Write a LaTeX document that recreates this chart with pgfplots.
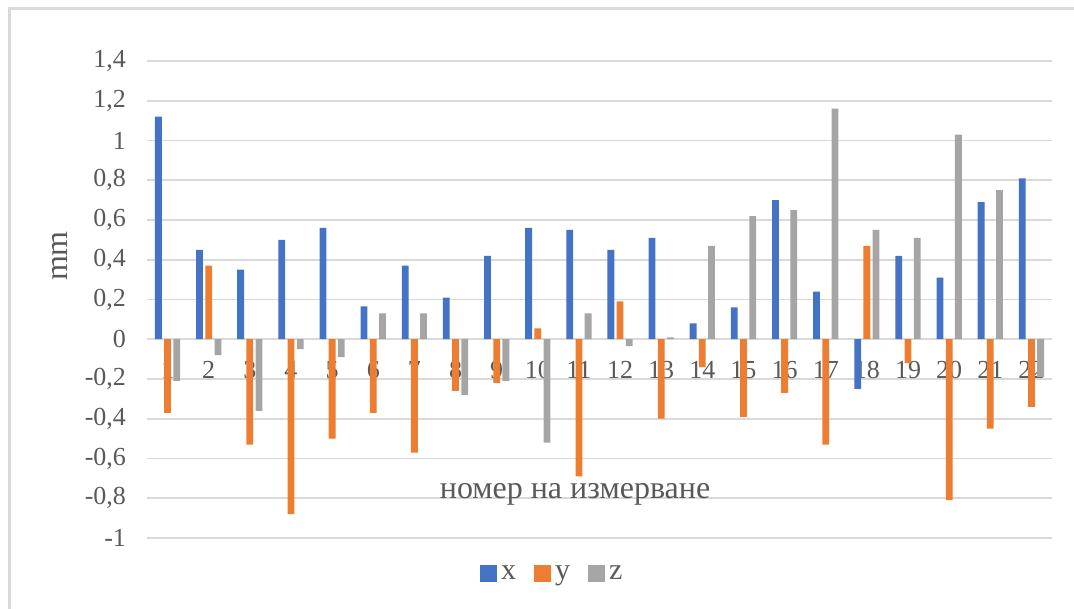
\documentclass[border=0pt]{standalone}
\usepackage{fontspec}
\setmainfont{Liberation Serif}
\usepackage{pgfplots}
\usepackage{pgfplotstable}
\pgfplotsset{compat=1.18}
\definecolor{cx}{HTML}{4472C4}
\definecolor{cy}{HTML}{ED7D31}
\definecolor{cz}{HTML}{A5A5A5}
\definecolor{gridc}{HTML}{D9D9D9}
\definecolor{txt}{HTML}{595959}
\pgfplotstableread{
n x y z
1 1.12 -0.37 -0.21
2 0.45 0.37 -0.08
3 0.35 -0.53 -0.36
4 0.50 -0.88 -0.05
5 0.56 -0.50 -0.09
6 0.165 -0.37 0.13
7 0.37 -0.57 0.13
8 0.21 -0.26 -0.28
9 0.42 -0.22 -0.21
10 0.56 0.055 -0.52
11 0.55 -0.69 0.13
12 0.45 0.19 -0.035
13 0.51 -0.40 0.01
14 0.08 -0.14 0.47
15 0.16 -0.39 0.62
16 0.70 -0.27 0.65
17 0.24 -0.53 1.16
18 -0.25 0.47 0.55
19 0.42 -0.12 0.51
20 0.31 -0.81 1.03
21 0.69 -0.45 0.75
22 0.81 -0.34 -0.19
}\data
\begin{document}
\begin{tikzpicture}
\useasboundingbox (0,0) rectangle (537pt,304.5pt);
\draw[gridc, line width=1.5pt] (4.5pt,0) -- (4.5pt,300pt) -- (537pt,300pt);
\begin{axis}[
  at={(73.5pt,35.5pt)}, anchor=south west,
  scale only axis, width=452.5pt, height=238.5pt,
  xmin=0.5, xmax=22.5, ymin=-1, ymax=1.4,
  ytick={-1,-0.8,...,1.41},
  xtick={1,...,22},
  axis line style={draw=none},
  major tick length=0pt,
  ymajorgrids, grid style={gridc, line width=0.9pt},
  ybar=1.2pt, bar width=3.4pt,
  /pgf/number format/.cd, use comma, fixed, precision=1, assume math mode=true,
  /pgfplots/.cd,
  tick label style={font=\fontsize{13}{15}\selectfont, text=txt},
  yticklabel style={xshift=-7pt},
  xticklabel style={anchor=center, yshift=84pt},
  xlabel={номер на измерване},
  ylabel={mm},
  every axis x label/.style={at={(axis description cs:0.473,0.092)}, anchor=center,
    font=\fontsize{16}{19}\selectfont, text=txt},
  every axis y label/.style={at={(axis description cs:-0.096,0.591)}, anchor=center, rotate=90,
    font=\fontsize{16}{19}\selectfont, text=txt},
  legend columns=3,
  legend style={draw=none, fill=none, at={(axis description cs:0.449,-0.075)}, anchor=center,
    font=\fontsize{15}{17}\selectfont, text=txt,
    /tikz/every even column/.append style={column sep=7pt}},
  legend image code/.code={\fill[#1] (0pt,-4.25pt) rectangle (8.5pt,4.25pt);},
]
\addplot[fill=cx, draw=none] table[x=n, y=x] {\data};
\addplot[fill=cy, draw=none] table[x=n, y=y] {\data};
\addplot[fill=cz, draw=none] table[x=n, y=z] {\data};
\legend{x,y,z}
\end{axis}
\end{tikzpicture}
\end{document}
